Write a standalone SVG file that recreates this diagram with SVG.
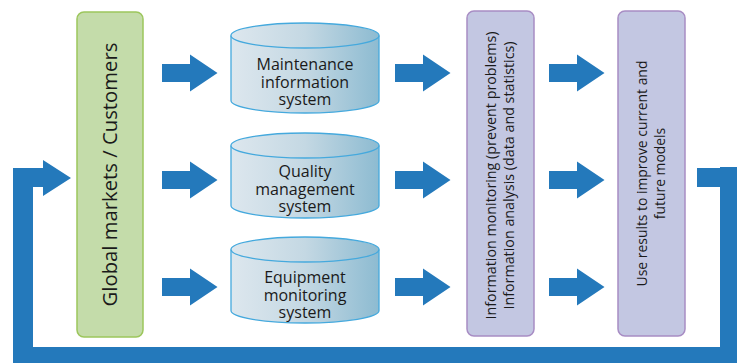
<svg xmlns="http://www.w3.org/2000/svg" width="738" height="363" viewBox="0 0 738 363">
<style>
.txt{font-family:"Open Sans","Noto Sans","DejaVu Sans",sans-serif;fill:#1a1a1a;text-anchor:middle}
.cyl{font-size:16px}
.arrow{fill:#2479bb}
.cylbody{fill:url(#cg);stroke:#45a9dd;stroke-width:1.3}
.green{fill:#c4dcaa;stroke:#9cc65c;stroke-width:1.5}
.purple{fill:#c3c7e2;stroke:#a88dc4;stroke-width:1.5}
</style>
<defs>
<linearGradient id="cg" x1="0" y1="0" x2="1" y2="0">
<stop offset="0" stop-color="#dde7ee"/>
<stop offset="0.5" stop-color="#c4d8e3"/>
<stop offset="1" stop-color="#8dbbd1"/>
</linearGradient>
<path id="arr" d="M0,-9 H28 V-18.5 L55.5,0 L28,18.5 V9 H0 Z"/>
</defs>
<rect width="738" height="363" fill="#ffffff"/>

<g id="global-markets">
<rect class="green" x="77" y="12" width="66" height="325" rx="7"/>
<text class="txt" font-size="20.3" transform="translate(117,174.5) rotate(-90)">Global markets / Customers</text>
</g>

<g id="maintenance">
<path class="cylbody" d="M231,35.5 V100.5 A74,12.5 0 0 0 379,100.5 V35.5"/>
<ellipse class="cylbody" cx="305" cy="35.5" rx="74" ry="12.5"/>
<text class="txt cyl"><tspan x="305" y="70">Maintenance</tspan><tspan x="305" y="87.5">information</tspan><tspan x="305" y="105">system</tspan></text>
</g>

<g id="quality">
<path class="cylbody" d="M231,145.5 V205.5 A74,12.5 0 0 0 379,205.5 V145.5"/>
<ellipse class="cylbody" cx="305" cy="145.5" rx="74" ry="12.5"/>
<text class="txt cyl"><tspan x="305" y="177">Quality</tspan><tspan x="305" y="194.5">management</tspan><tspan x="305" y="212">system</tspan></text>
</g>

<g id="equipment">
<path class="cylbody" d="M231,249.5 V310.5 A74,12.5 0 0 0 379,310.5 V249.5"/>
<ellipse class="cylbody" cx="305" cy="249.5" rx="74" ry="12.5"/>
<text class="txt cyl"><tspan x="305" y="283">Equipment</tspan><tspan x="305" y="300.5">monitoring</tspan><tspan x="305" y="318">system</tspan></text>
</g>

<g id="information">
<rect class="purple" x="467" y="11" width="67" height="325" rx="7"/>
<text class="txt" font-size="14.3" transform="translate(467,175.5) rotate(-90)"><tspan x="0" y="28.5">Information monitoring (prevent problems)</tspan><tspan x="0" y="46.5">Information analysis (data and statistics)</tspan></text>
</g>

<g id="use-results">
<rect class="purple" x="618" y="11" width="67" height="325" rx="7"/>
<text class="txt" font-size="13.9" transform="translate(618,173.5) rotate(-90)"><tspan x="0" y="28.5">Use results to improve current and</tspan><tspan x="0" y="46.5">future models</tspan></text>
</g>

<g id="connectors" class="arrow">
<use href="#arr" x="162" y="73"/>
<use href="#arr" x="162" y="180"/>
<use href="#arr" x="162" y="287"/>
<use href="#arr" x="395" y="73"/>
<use href="#arr" x="395" y="180"/>
<use href="#arr" x="395" y="287"/>
<use href="#arr" x="549" y="73"/>
<use href="#arr" x="549" y="180"/>
<use href="#arr" x="549" y="287"/>
<path d="M697,168 H720 V167 H737 V363 H13 V168 H43 V160 L71,178 L43,196 V187 H33 V347 H720 V187 H697 Z"/>
</g>
</svg>
